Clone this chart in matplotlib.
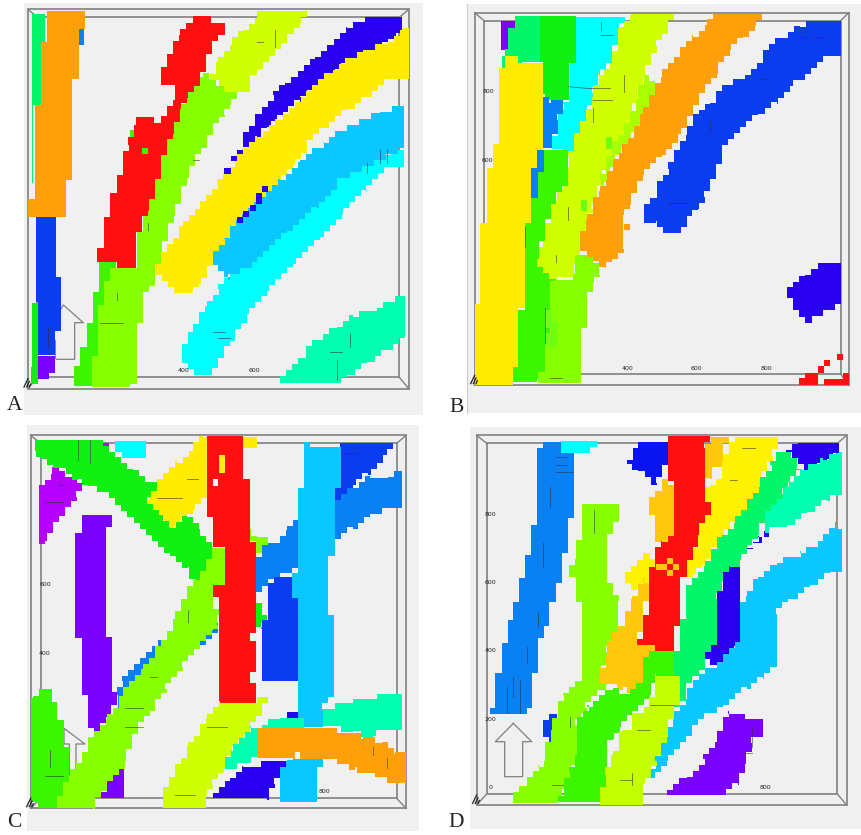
import matplotlib
matplotlib.use("Agg")
import matplotlib.pyplot as plt
from matplotlib.patches import Polygon, Rectangle

ORANGE, SPRING, GREEN, LIME = "#ffa00a", "#05f56a", "#3cf500", "#88ff00"
YLIME, YELLOW, RED, CYAN = "#d0ff00", "#ffec00", "#ff1010", "#00ffff"
SKY, MIDBLUE, BLUE, NAVY = "#0ac8ff", "#0a80f5", "#0a3cf0", "#2a00f0"
VIOLET, TEAL, PURPLE, PURE = "#7a00ff", "#00ffb0", "#b400ff", "#10f010"
AMBER = "#ffc80a"

# ── Panel A ───────────────────────────────────────────────────────────────────
A_SPRING = [(97,42),(135,42),(135,125),(122,125),(122,315),(100,315),(100,550),(97,550)]
A_SMALLBLUE = [(236,88),(252,88),(252,136),(236,136)]
A_ORANGE = [(140,32),(255,32),(255,88),(236,88),(236,236),(216,236),(216,540),(198,540),(198,652),(84,652),(84,598),(104,598),(104,315),(122,315),(122,125),(140,125)]
A_BLUE = [(108,652),(168,652),(168,830),(184,830),(184,992),(165,992),(165,1065),(115,1065),(115,905),(108,905)]
A_THIN = [(95,910),(115,910),(115,1152),(92,1152),(92,1100),(95,1100)]
A_VIOLET = [(115,1068),(165,1068),(165,1118),(148,1118),(148,1136),(115,1136)]
A_GREEN = [(297,787),(348,787),(330,860),(312,950),(295,970),(295,1157),(222,1157),(222,1098),(240,1098),(240,1042),(260,1042),(260,968),(278,968),(278,875),(297,875)]
A_LIME = [(610,220),(630,240),(674,258),(710,280),(690,310),(674,350),(638,370),(620,425),(584,480),(560,540),(522,650),(484,760),(466,840),(430,900),(430,968),(410,968),(410,1135),(390,1160),(276,1160),(276,1068),(295,1068),(295,968),(312,880),(332,805),(410,800),(410,730),(428,640),(445,580),(484,480),(520,380),(540,330),(560,290),(590,250)]
A_RED = [(580,48),(634,48),(634,68),(674,68),(674,104),(655,104),(635,145),(618,180),(600,240),(560,290),(540,330),(520,400),(500,430),(465,580),(445,630),(425,660),(408,730),(408,804),(350,804),(350,787),(292,787),(292,745),(312,745),(312,652),(330,652),(330,578),(350,578),(368,470),(385,430),(408,370),(425,350),(445,350),(465,370),(484,385),(500,335),(525,300),(525,255),(484,255),(484,220),(500,180),(520,140),(540,105),(558,68),(580,68)]
A_DOT1 = [(427,445),(445,445),(445,463),(427,463)]
A_DOT2 = [(390,390),(406,390),(406,425),(390,425)]
A_YLIME = [(770,32),(922,32),(900,65),(860,110),(825,150),(790,190),(750,235),(750,275),(690,275),(674,258),(630,240),(655,190),(695,130),(730,90),(770,55)]
A_NAVY = [(1095,50),(1205,50),(1205,100),(1165,125),(1110,160),(1040,190),(990,230),(940,270),(900,300),(850,345),(800,385),(750,440),(728,445),(728,415),(748,378),(785,340),(820,290),(855,250),(895,230),(945,170),(985,135),(1040,85),(1095,65)]
A_NAVYDOTS = [(673,503,692,521),(692,467,711,484),(711,450,729,463),(786,557,804,575),(768,578,786,612),(750,615,768,632),(729,632,748,650),(711,652,729,670)]
A_YELLOW = [(1208,85),(1226,85),(1226,238),(1170,238),(1100,290),(1040,330),(975,385),(920,440),(880,490),(830,560),(770,640),(710,690),(640,780),(598,860),(578,880),(540,880),(466,810),(500,750),(550,680),(600,620),(650,555),(710,480),(770,410),(830,360),(900,290),(1000,210),(1090,150),(1165,125)]
A_CYAN = [(1180,450),(1212,450),(1212,500),(1170,500),(1100,570),(1025,640),(960,720),(880,800),(800,870),(740,950),(690,1020),(655,1085),(635,1125),(600,1125),(545,1075),(545,1050),(580,990),(620,920),(655,870),(710,790),(780,700),(900,600),(1030,500)]
A_SKY = [(1200,318),(1212,318),(1212,445),(1140,480),(1030,535),(950,620),(860,700),(775,785),(690,832),(638,790),(638,770),(672,715),(725,660),(780,590),(840,540),(900,480),(970,430),(1060,375),(1140,335)]
A_TEAL = [(1195,888),(1215,888),(1215,1015),(1160,1050),(1100,1090),(1040,1130),(1005,1150),(840,1150),(840,1128),(900,1075),(950,1020),(1010,980),(1060,950),(1130,925)]
A_ARROW = [(170,1078),(224,1078),(224,968),(250,968),(190,915),(184,925)]
A_FRAME = (84,28,1226,1166, 112,52,1198,1132)
A_BG = (72,8,1268,1245)
A_TICKS = [("400",552,1112),("600",762,1112)]
A_DASHES = [(1140,450,1140,490),(1160,450,1160,490),(1100,490,1100,520),(825,90,825,140),(770,125,790,125),(1050,1000,1050,1040),(990,1055,1025,1055),(1010,1080,1010,1140),(350,880,350,900),(300,970,370,970),(445,670,445,690),(640,995,675,995),(655,1015,690,1015),(145,980,145,1040),(165,1020,165,1075),(580,480,596,480)]

# ── Panel B ───────────────────────────────────────────────────────────────────
B_VIOLET = [(212,62),(255,62),(255,85),(235,85),(235,150),(212,150)]
B_SPRING = [(255,48),(330,48),(330,185),(215,205),(225,165),(235,150),(235,85),(255,85)]
B_PURE = [(330,48),(438,48),(438,190),(418,190),(418,300),(362,300),(340,285),(340,205),(330,185)]
B_CYAN = [(438,50),(585,50),(565,100),(545,190),(505,225),(490,280),(470,350),(435,465),(365,445),(385,365),(400,305),(420,290),(420,190),(438,190)]
B_MID1 = [(340,290),(362,300),(400,305),(385,365),(365,445),(340,450)]
B_MID2 = [(320,450),(342,450),(342,520),(325,600),(303,595),(303,505),(320,505)]
B_YLIME = [(603,42),(732,42),(715,85),(680,140),(640,225),(625,290),(600,350),(570,420),(520,520),(490,620),(450,720),(435,830),(375,840),(320,800),(320,760),(345,705),(362,620),(400,540),(415,470),(450,380),(490,290),(505,225),(545,190),(565,100)]
B_LIMEPATCH = [(640,225),(678,260),(678,300),(640,360),(590,430),(540,510),(530,560),(510,540),(545,440),(600,350),(625,290)]
B_GREEN = [(345,450),(415,450),(415,540),(362,620),(345,705),(320,770),(320,800),(378,835),(360,860),(360,1040),(345,1040),(345,1120),(322,1146),(248,1146),(248,1100),(265,1100),(265,930),(285,925),(285,730),(303,595),(325,590),(325,515),(342,505)]
B_LIME = [(435,765),(488,770),(510,830),(490,840),(470,900),(470,985),(453,990),(453,1150),(325,1150),(325,1115),(345,1115),(345,1040),(360,1040),(360,860),(375,840),(435,830)]
B_ORANGE = [(845,42),(995,42),(975,75),(940,115),(900,150),(860,215),(825,260),(790,330),(745,410),(695,470),(640,525),(600,610),(580,640),(582,740),(545,785),(525,800),(490,770),(450,755),(450,710),(470,660),(490,610),(510,575),(530,530),(575,450),(640,340),(695,225),(750,160),(790,110),(830,75)]
B_YELLOW = [(225,168),(265,168),(265,188),(356,188),(340,205),(340,450),(322,450),(322,505),(303,505),(303,670),(285,670),(285,925),(265,930),(265,1100),(248,1100),(245,1155),(134,1155),(134,912),(150,912),(150,670),(170,670),(170,505),(188,505),(188,432),(207,432),(207,205),(225,205)]
B_BLUE = [(1145,62),(1234,62),(1234,168),(1198,168),(1160,205),(1080,258),(1040,305),(985,345),(930,400),(875,455),(858,520),(825,590),(805,630),(770,645),(770,680),(750,700),(698,700),(678,668),(642,668),(642,612),(680,595),(680,560),(715,505),(750,440),(770,395),(808,330),(840,310),(890,255),(945,225),(1000,180),(1000,150),(1055,115),(1110,80)]
B_NAVY = [(1180,790),(1234,790),(1234,912),(1198,930),(1145,950),(1145,968),(1125,968),(1108,930),(1090,912),(1072,890),(1072,862),(1090,845),(1125,825),(1145,808)]
B_RED1 = [(1108,1135),(1125,1135),(1125,1118),(1165,1118),(1165,1156),(1108,1156)]
B_RED2 = [(1182,1138),(1238,1138),(1238,1120),(1256,1120),(1256,1156),(1182,1156)]
B_REDDOTS = [(1165,1098,1182,1118),(1182,1080,1200,1098),(1220,1062,1238,1080)]
B_ORANGEDOT = (582,672,600,690)
B_LIMEDOTS = [(452,600,470,632),(345,930,362,985),(345,1000,362,1040),(362,965,380,1040),(528,412,546,448)]
B_FRAME = (134,38,1256,1156, 162,62,1232,1122)
B_BG = (110,12,1293,1240)
B_TICKS = [("400",592,1105),("600",800,1105),("800",1010,1105),("800",174,275),("600",172,482)]
B_DASHES = [(512,65,512,90),(512,104,548,104),(490,300,545,300),(470,265,540,265),(583,225,583,275),(415,260,470,265),(715,610,770,610),(1150,110,1180,110),(1115,112,1130,112),(985,238,1005,238),(840,365,840,395),(360,1135,395,1135),(345,925,345,1030),(378,765,378,785),(415,620,415,660),(285,680,285,740),(490,325,490,365)]

# ── Panel C ───────────────────────────────────────────────────────────────────
C_PURPLE = [(160,135),(245,195),(230,225),(195,270),(160,320),(140,345),(135,372),(118,372),(118,195),(135,180),(155,160)]
C_CYAN = [(345,62),(438,62),(438,115),(385,115),(345,90)]
C_PURPLE2 = [(292,68),(345,68),(320,95)]
C_PURE = [(105,60),(290,60),(345,110),(400,150),(472,195),(440,235),(470,285),(510,325),(560,290),(600,330),(640,380),(640,420),(600,495),(585,495),(565,445),(510,400),(455,345),(400,290),(345,235),(265,195),(235,180),(160,135),(125,110),(105,92)]
C_YELLOW = [(610,50),(620,50),(620,215),(580,265),(560,290),(510,325),(445,255),(430,240),(472,195),(530,130),(580,85)]
C_YELLOW2 = [(730,50),(770,50),(770,85),(730,85)]
C_VIOLET = [(245,285),(335,285),(335,320),(318,320),(318,650),(335,660),(335,815),(350,820),(350,855),(318,890),(300,925),(298,958),(282,958),(282,925),(265,920),(265,825),(245,815),(245,655),(225,655),(225,340),(245,340)]
C_STRIP = [(640,608),(655,608),(655,640),(600,680),(500,760),(355,860),(350,820),(365,785),(420,715),(480,660),(620,630)]
C_VIOLET2 = [(355,1035),(372,1035),(372,1135),(302,1135),(320,1090)]
C_GREEN = [(98,828),(118,808),(155,808),(155,845),(172,850),(172,900),(192,905),(192,980),(208,990),(208,1070),(190,1120),(170,1165),(115,1165),(92,1120),(92,960)]
C_LIME = [(640,385),(675,385),(675,495),(640,495),(650,580),(655,608),(600,670),(550,735),(500,800),(450,870),(395,950),(375,1030),(320,1095),(285,1150),(280,1165),(170,1165),(190,1105),(210,1065),(245,1015),(265,970),(320,900),(370,820),(430,750),(500,650),(525,590),(560,515),(600,470)]
C_RED = [(620,48),(730,48),(730,178),(750,178),(750,365),(768,365),(768,640),(750,640),(750,662),(768,662),(768,755),(750,755),(750,790),(768,790),(768,848),(656,848),(656,530),(638,530),(638,495),(675,495),(675,382),(638,382),(638,290),(620,290)]
C_INRED = (656,105,676,160)
C_WHITE = (638,178,655,198)
C_LIMEBIT = [(752,330),(770,350),(805,350),(790,400),(768,400)]
C_PUREBIT = [(768,550),(785,550),(785,585),(802,590),(785,622),(768,622)]
C_MID = [(875,300),(893,300),(893,445),(875,460),(805,480),(785,515),(768,530),(768,410),(805,370),(840,365),(860,335)]
C_MIDR = [(1205,155),(1203,265),(1165,265),(1110,290),(1060,320),(1005,355),(1005,240),(1060,205),(1110,175),(1165,170)]
C_BLUE1 = [(1020,70),(1180,70),(1150,110),(1105,160),(1060,205),(1005,245),(1005,175),(1020,165)]
C_BLUE2 = [(805,490),(875,465),(895,515),(895,695),(913,695),(913,730),(893,730),(893,783),(785,783),(785,600),(803,600)]
C_SKY = [(912,65),(930,80),(1022,80),(1022,205),(1005,205),(1005,408),(985,408),(985,585),(1002,585),(1002,830),(970,860),(970,920),(895,910),(893,730),(893,535),(875,520),(875,460),(893,445),(893,205),(912,205)]
C_YLIME = [(770,830),(805,830),(785,870),(750,925),(700,990),(672,1040),(640,1090),(618,1125),(618,1163),(488,1163),(488,1120),(508,1090),(525,1050),(565,985),(620,900),(640,860),(660,850),(770,848)]
C_TEAL1 = [(1130,822),(1205,822),(1205,930),(1145,930),(1120,950),(1060,935),(968,915),(968,868),(1060,838),(1130,838)]
C_TEAL2 = [(785,915),(840,895),(912,895),(912,925),(770,925),(770,1010),(730,1030),(675,1060),(675,1030),(700,990),(750,925)]
C_NAVY1 = [(730,1042),(860,1022),(840,1055),(825,1085),(800,1135),(640,1135),(640,1120),(690,1075)]
C_NAVY2 = [(870,875),(895,870),(895,895),(860,895)]
C_SKY2 = [(885,998),(900,1015),(968,1018),(968,1040),(950,1040),(950,1146),(840,1146),(840,1040),(860,1020)]
C_ORANGE = [(770,925),(1012,922),(1012,940),(1090,950),(1145,965),(1185,995),(1218,997),(1218,1090),(1180,1090),(1125,1060),(1065,1050),(1010,1030),(1010,1018),(900,1015),(885,998),(880,1015),(770,1015)]
C_ARROW = [(208,1065),(208,972),(192,972),(192,925),(255,972),(228,972),(228,1050),(245,1050)]
C_FRAME = (92,46,1218,1165, 122,70,1190,1135)
C_BG = (80,15,1258,1232)
C_TICKS = [("600",135,492),("400",135,700),("800",972,1115)]
C_DASHES = [(470,235,545,235),(560,178,595,178),(375,920,430,920),(375,865,430,865),(135,1068,190,1068),(150,990,150,1040),(565,570,565,605),(175,195,190,195),(135,245,190,245),(235,60,235,120),(270,60,270,130),(1120,980,1120,1005),(1160,1015,1160,1045),(1030,100,1070,100),(620,920,680,920),(525,1125,585,1125),(450,772,470,772)]

# ── Panel D ───────────────────────────────────────────────────────────────────
D_BLUE = [(340,65),(392,65),(392,100),(432,100),(432,295),(415,295),(415,400),(395,405),(395,490),(378,490),(378,545),(358,545),(358,618),(342,618),(325,670),(325,760),(306,760),(306,865),(290,865),(290,883),(180,883),(180,865),(196,865),(196,760),(215,760),(215,668),(233,668),(233,600),(250,600),(250,545),(268,545),(268,473),(286,473),(286,405),(304,405),(304,315),(322,315),(322,85),(340,85)]
D_CYAN = [(392,62),(500,62),(500,82),(480,82),(480,100),(392,100)]
D_SMALLBLUE = [(358,882),(382,882),(382,985),(358,985),(358,952),(340,952),(340,900),(358,900)]
D_BLUE2 = [(625,66),(715,66),(715,135),(695,135),(680,195),(662,195),(662,170),(625,150),(590,135),(590,120),(608,120),(608,85),(625,85)]
D_AMBER1 = [(840,50),(915,50),(880,85),(880,140),(845,140),(840,175),(825,175),(825,90)]
D_AMBER2 = [(695,178),(715,178),(733,200),(733,365),(675,365),(675,285),(658,285),(658,230),(695,210)]
D_YELLOW1 = [(915,50),(1045,50),(1030,105),(1010,135),(990,175),(990,230),(950,270),(900,310),(880,345),(845,400),(815,445),(790,470),(770,470),(770,450),(788,385),(805,380),(805,340),(825,280),(840,250),(825,245),(825,220),(840,195),(875,175),(880,120)]
D_YELLOW2 = [(640,398),(660,398),(675,435),(658,490),(620,510),(600,490),(584,490),(584,455),(620,420)]
D_RED = [(715,48),(840,48),(825,90),(825,245),(842,250),(842,285),(825,290),(805,340),(805,380),(788,385),(770,450),(770,470),(750,475),(750,618),(732,618),(732,692),(675,692),(675,675),(620,675),(620,658),(640,658),(640,585),(658,585),(658,440),(675,435),(675,400),(695,365),(733,340),(733,200),(715,178)]
D_REDDOTS = [(712,415,730,433),(678,433,712,451),(730,433,748,451),(712,451,730,469)]
D_SPRING = [(1038,95),(1065,95),(1100,130),(1115,150),(1075,185),(1060,220),(1005,290),(985,340),(950,385),(930,425),(895,465),(860,540),(860,670),(825,710),(825,750),(785,770),(750,860),(732,860),(732,692),(750,692),(750,650),(768,530),(785,475),(825,440),(875,345),(915,305),(950,255),(990,200),(990,170),(1020,140)]
D_NAVY1 = [(880,475),(900,440),(930,440),(930,660),(915,690),(875,735),(840,735),(825,715),(842,675),(860,670),(860,530)]
D_NAVY2 = [(950,385),(985,350),(1035,332),(1015,350),(970,370),(950,403)]
D_NAVY3 = [(1105,70),(1228,70),(1228,100),(1180,130),(1140,150),(1068,90)]
D_TEAL = [(1228,95),(1235,95),(1235,225),(1190,240),(1130,280),(1070,320),(1005,330),(1005,290),(1060,220),(1075,185),(1115,150),(1180,120)]
D_SKY = [(1218,310),(1235,330),(1235,455),(1200,460),(1140,500),(1075,545),(1040,580),(1037,740),(1000,770),(950,800),(880,860),(840,880),(785,930),(750,970),(712,1020),(675,1075),(640,1085),(640,1075),(660,1065),(676,1025),(712,940),(732,890),(770,840),(790,780),(880,720),(930,660),(930,565),(950,530),(985,470),(1040,430),(1110,400),(1180,360)]
D_LIME = [(457,252),(568,252),(568,305),(550,305),(530,400),(530,490),(550,490),(565,545),(565,635),(545,660),(530,700),(510,780),(545,790),(520,810),(470,860),(440,910),(440,1000),(415,1090),(385,1150),(250,1150),(250,1135),(290,1090),(325,1040),(345,1020),(345,985),(365,930),(385,860),(400,820),(457,780),(457,545),(437,525),(437,470),(418,470),(418,435),(437,415),(437,360),(457,360)]
D_AMBER3 = [(640,470),(658,490),(640,600),(620,675),(675,675),(640,735),(640,780),(608,820),(580,810),(510,780),(530,700),(545,655),(585,610),(605,545)]
D_GREEN = [(640,730),(660,692),(732,692),(732,768),(680,770),(660,820),(610,885),(570,920),(550,960),(530,980),(525,1145),(385,1145),(418,1060),(440,1000),(440,910),(470,860),(520,810),(550,805),(600,825),(640,780)]
D_YLIME = [(678,768),(750,768),(750,855),(732,860),(712,950),(680,1020),(640,1090),(640,1155),(510,1155),(525,1060),(550,1010),(568,970),(580,930),(605,930),(605,880),(658,868)]
D_VIOLET = [(895,882),(945,882),(945,898),(998,898),(998,950),(965,960),(945,1040),(925,1090),(890,1125),(712,1125),(712,1110),(770,1070),(820,1020),(860,970),(880,910)]
D_ARROW = [(250,910),(305,965),(278,965),(278,1070),(224,1070),(224,965),(196,965),(250,910)]
D_FRAME = (140,46,1250,1155, 170,70,1222,1122)
D_BG = (120,22,1293,1228)
D_TICKS = [("800",182,282),("600",182,487),("400",182,693),("200",182,898),("0",182,1103),("800",1005,1103)]
D_DASHES = [(378,110,410,110),(378,135,410,135),(378,155,430,155),(493,270,493,340),(360,200,360,260),(340,370,340,440),(325,580,325,620),(250,770,250,830),(232,800,232,880),(270,780,270,880),(290,680,290,730),(935,85,975,85),(900,180,920,180),(660,855,730,855),(570,1080,605,1080),(605,1060,605,1095),(365,1095,400,1095),(620,930,660,930),(935,1000,965,1000),(965,920,965,980),(420,890,420,920)]

STEP = 18  # size of the blocks in the stair edges


def stair(verts):
    """Turn sloped polygon edges into the blocky steps of the voxel slices."""
    out = []
    for (x0, y0), (x1, y1) in zip(verts, verts[1:] + verts[:1]):
        dx, dy = x1 - x0, y1 - y0
        out.append((x0, y0))
        if dx == 0 or dy == 0:
            continue
        # walk along the edge on a STEP grid, so both directions move in whole blocks
        n = int(max(abs(dx), abs(dy)))
        x, y = x0, y0
        for i in range(1, n):
            gx = x0 + round(dx * i / n / STEP) * STEP
            gy = y0 + round(dy * i / n / STEP) * STEP
            if gx != x:
                out.append((gx, y))
                x = gx
            if gy != y:
                out.append((x, gy))
                y = gy
        out.append((x1, y))
    return out


def box(ax, rect, color, z=3):
    x0, y0, x1, y1 = rect
    ax.add_patch(Rectangle((x0, y0), x1 - x0, y1 - y0, fc=color, ec="none", zorder=z))


def draw_panel(ax, bg, frame, shapes, arrow, ticks, dashes, letter, letter_xy, height):
    ax.set_xlim(0, 1293)
    ax.set_ylim(height, 0)
    ax.axis("off")
    box(ax, bg, "#f0f0f0", z=0)

    ox0, oy0, ox1, oy1, ix0, iy0, ix1, iy1 = frame
    for a, b, c, d in [(ox0, oy0, ox1, oy1), (ix0, iy0, ix1, iy1)]:
        ax.add_patch(Rectangle((a, b), c - a, d - b, fc="none", ec="#808080", lw=1.2, zorder=1))
    for xa, ya, xb, yb in [(ox0, oy0, ix0, iy0), (ox1, oy0, ix1, iy0),
                           (ox0, oy1, ix0, iy1), (ox1, oy1, ix1, iy1)]:
        ax.plot([xa, xb], [ya, yb], color="#808080", lw=1, zorder=1)

    ax.plot(*zip(*arrow), color="#808080", lw=0.9, zorder=1)

    for verts, color in shapes:
        ax.add_patch(Polygon(stair(verts), closed=True, fc=color, ec="none", zorder=2))

    for xa, ya, xb, yb in dashes:
        ax.plot([xa, xb], [ya, yb], color="#303030", lw=0.6, alpha=0.65, zorder=4)

    for label, x, y in ticks:
        ax.text(x, y, label, fontsize=4.5, ha="center", va="center", color="#222222", zorder=5)

    # little black axis glyph in the bottom-left corner
    for d in (0, 8, 16):
        ax.plot([ox0 - 12 + d, ox0 + d / 2], [oy1 - 5, oy1 - 30 + d], color="#202020", lw=0.9, zorder=5)

    ax.text(*letter_xy, letter, fontsize=15.5, family="Liberation Serif",
            ha="center", va="center", color="#222222", zorder=5)


fig = plt.figure(figsize=(8.61, 8.35), dpi=100)
W, H = 861, 835
ax_a = fig.add_axes([0, 1 - 420 / H, 431 / W, 420 / H])
ax_b = fig.add_axes([430 / W, 1 - 420 / H, 431 / W, 420 / H])
ax_c = fig.add_axes([0, 0, 431 / W, 415 / H])
ax_d = fig.add_axes([430 / W, 0, 431 / W, 415 / H])

draw_panel(ax_a, A_BG, A_FRAME, [
    (A_SPRING, SPRING), (A_SMALLBLUE, MIDBLUE), (A_ORANGE, ORANGE), (A_BLUE, BLUE),
    (A_THIN, PURE), (A_VIOLET, VIOLET), (A_GREEN, GREEN), (A_LIME, LIME),
    (A_DOT2, GREEN), (A_RED, RED), (A_DOT1, GREEN), (A_YLIME, YLIME), (A_NAVY, NAVY),
    (A_YELLOW, YELLOW), (A_CYAN, CYAN), (A_SKY, SKY), (A_TEAL, TEAL),
], A_ARROW, A_TICKS, A_DASHES, "A", (44, 1218), 1260)
for r in A_NAVYDOTS:
    box(ax_a, r, NAVY)

draw_panel(ax_b, B_BG, B_FRAME, [
    (B_VIOLET, VIOLET), (B_SPRING, SPRING), (B_PURE, PURE), (B_CYAN, CYAN), (B_MID1, MIDBLUE),
    (B_MID2, MIDBLUE), (B_YLIME, YLIME), (B_LIMEPATCH, "#aaff00"), (B_GREEN, GREEN), (B_LIME, LIME),
    (B_ORANGE, ORANGE), (B_YELLOW, YELLOW), (B_BLUE, BLUE), (B_NAVY, NAVY),
    (B_RED1, RED), (B_RED2, RED),
], [(0, 0)], B_TICKS, B_DASHES, "B", (80, 1222), 1260)
for r in B_REDDOTS:
    box(ax_b, r, RED)
box(ax_b, B_ORANGEDOT, ORANGE)
for r in B_LIMEDOTS:
    box(ax_b, r, "#70ff10")
ax_b.plot([110, 110], [12, 1240], color="#cccccc", lw=0.8, zorder=1)

draw_panel(ax_c, C_BG, C_FRAME, [
    (C_PURPLE, PURPLE), (C_CYAN, CYAN), (C_PURPLE2, PURPLE), (C_YELLOW, YELLOW), (C_YELLOW2, YELLOW),
    (C_PURE, PURE), (C_VIOLET, VIOLET), (C_STRIP, MIDBLUE), (C_VIOLET2, VIOLET), (C_GREEN, GREEN),
    (C_LIME, LIME), (C_LIMEBIT, LIME), (C_PUREBIT, PURE), (C_RED, RED), (C_MID, MIDBLUE),
    (C_MIDR, MIDBLUE), (C_BLUE1, BLUE), (C_BLUE2, BLUE), (C_SKY, SKY), (C_YLIME, YLIME),
    (C_TEAL1, TEAL), (C_TEAL2, TEAL), (C_NAVY1, NAVY), (C_NAVY2, NAVY), (C_SKY2, SKY), (C_ORANGE, ORANGE),
], C_ARROW, C_TICKS, C_DASHES, "C", (44, 1208), 1245)
box(ax_c, C_INRED, YELLOW)
box(ax_c, C_WHITE, "#ffffff")

draw_panel(ax_d, D_BG, D_FRAME, [
    (D_BLUE, MIDBLUE), (D_CYAN, CYAN), (D_SMALLBLUE, BLUE), (D_BLUE2, "#0a14f0"), (D_AMBER1, AMBER),
    (D_AMBER2, AMBER), (D_YELLOW1, "#fff200"), (D_YELLOW2, "#fff200"), (D_RED, RED), (D_SPRING, SPRING),
    (D_NAVY1, NAVY), (D_NAVY2, NAVY), (D_NAVY3, NAVY), (D_TEAL, TEAL), (D_SKY, SKY), (D_LIME, LIME),
    (D_AMBER3, AMBER), (D_GREEN, GREEN), (D_YLIME, "#c4ff00"), (D_VIOLET, VIOLET),
], D_ARROW, D_TICKS, D_DASHES, "D", (80, 1208), 1245)
for r in D_REDDOTS:
    box(ax_d, r, AMBER)

fig.savefig("out.png", dpi=100, facecolor="white")
